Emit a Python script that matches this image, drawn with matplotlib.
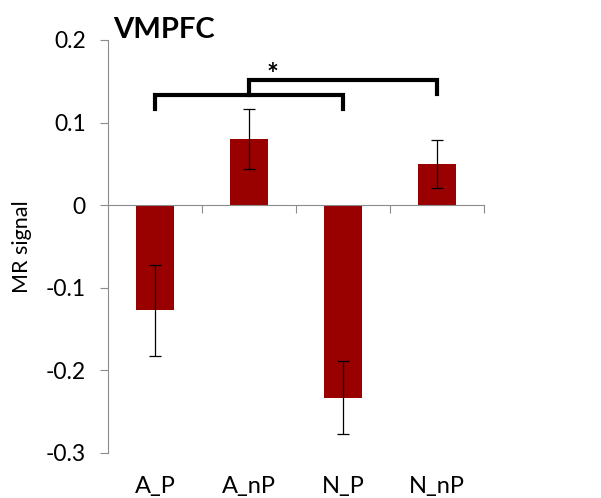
import matplotlib.pyplot as plt
from matplotlib.transforms import blended_transform_factory

# data
categories = ["A_P", "A_nP", "N_P", "N_nP"]
values = [-0.127, 0.080, -0.233, 0.050]
errors = [0.055, 0.036, 0.044, 0.029]
yticks = [0.2, 0.1, 0, -0.1, -0.2, -0.3]
ytick_labels = ["0.2", "0.1", "0", "-0.1", "-0.2", "-0.3"]

plt.rcParams["font.family"] = ["Lato", "DejaVu Sans"]

fig = plt.figure(figsize=(6.01, 4.98), dpi=100)
ax = fig.add_axes([0.1797, 0.0904, 0.6256, 0.8293])

x = list(range(len(categories)))
ax.bar(x, values, width=0.4, color="#990000", zorder=2)
ax.errorbar(x, values, yerr=errors, fmt="none", ecolor="black",
            elinewidth=0.9, capsize=4.5, capthick=0.9, zorder=3)

ax.set_xlim(-0.5, 3.5)
ax.set_ylim(-0.3, 0.2)

# axis styling: grey y-spine, x-axis drawn at zero
for s in ["top", "right"]:
    ax.spines[s].set_visible(False)
ax.spines["left"].set_color("#8c8c8c")
ax.spines["bottom"].set_color("#8c8c8c")
ax.spines["bottom"].set_position(("data", 0))
ax.set_yticks(yticks)
ax.set_yticklabels(ytick_labels, fontsize=16.5)
ax.tick_params(axis="y", direction="out", length=6, color="#8c8c8c", pad=10)
ax.set_xticks([0.5, 1.5, 2.5, 3.5])
ax.set_xticklabels([])
ax.tick_params(axis="x", direction="out", length=6, color="#8c8c8c")

# category labels at the bottom of the figure
trans = blended_transform_factory(ax.transData, ax.transAxes)
for xi, lab in zip(x, categories):
    ax.text(xi, -0.055, lab, transform=trans, ha="center", va="top", fontsize=17)

ax.set_ylabel("MR signal", fontsize=15.5, labelpad=10)

# significance brackets
lw = 3
ax.plot([0, 0, 2, 2], [0.117, 0.133, 0.133, 0.117], color="black", lw=lw,
        solid_joinstyle="miter", zorder=4)
ax.plot([1, 1, 3, 3], [0.133, 0.152, 0.152, 0.135], color="black", lw=lw,
        solid_joinstyle="miter", zorder=4)
ax.text(1.25, 0.158, "*", ha="center", va="center", fontsize=20, fontweight="bold")

fig.text(113 / 601, 1 - 38 / 498, "VMPFC", fontsize=21, fontweight="bold",
         ha="left", va="baseline")

fig.savefig("out.png", dpi=100)
